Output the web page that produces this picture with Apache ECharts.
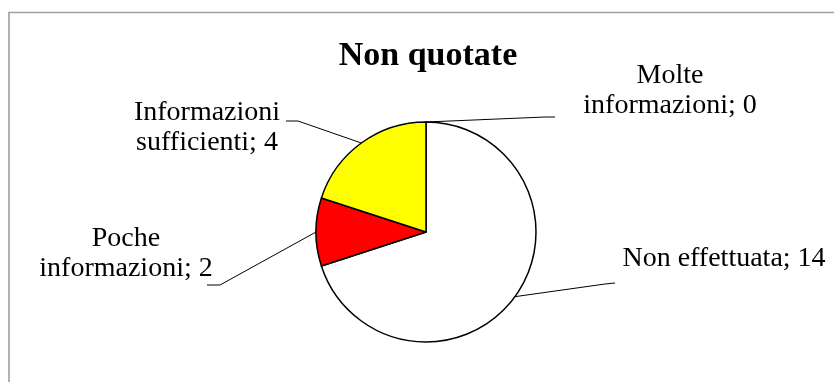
<!DOCTYPE html>
<html>
<head>
<meta charset="utf-8">
<script src="https://cdn.jsdelivr.net/npm/echarts@6/dist/echarts.min.js"></script>
<style>
  html, body { margin: 0; padding: 0; background: #fff; }
  #main { width: 834px; height: 382px; }
</style>
</head>
<body>
<div id="main"></div>
<script>
const categories = ['Molte\ninformazioni', 'Non effettuata', 'Poche\ninformazioni', 'Informazioni\nsufficienti'];
const values = [0, 14, 2, 4];
const sliceColors = ['#ffffff', '#ffffff', '#ff0000', '#ffff00'];

// label anchor and the two outer points of each leader line
const labelSpots = [
  { x: 670, y: 91, bend: [545, 117], end: [555, 117] },
  { x: 724, y: 259, bend: [605, 284], end: [615, 283] },
  { x: 126, y: 254, bend: [220, 285], end: [207, 285] },
  { x: 207, y: 128, bend: [298, 121], end: [286, 121] }
];

const font = '"Liberation Serif", "DejaVu Serif", serif';

let myChart = echarts.init(document.getElementById('main'));
let option = {
  backgroundColor: '#fff',
  animation: false,
  title: {
    text: 'Non quotate',
    left: 423,
    top: 34,
    textAlign: 'center',
    textStyle: { fontFamily: font, fontSize: 34, fontWeight: 'bold', color: '#000' }
  },
  graphic: [{
    type: 'rect',
    shape: { x: 9, y: 12.5, width: 900, height: 500 },
    style: { fill: 'none', stroke: '#a0a0a0', lineWidth: 1.6 },
    silent: true
  }],
  series: [{
    type: 'pie',
    center: [426, 232],
    radius: 110,
    startAngle: 90,
    clockwise: true,
    avoidLabelOverlap: false,
    data: categories.map((name, i) => ({ name: name, value: values[i], itemStyle: { color: sliceColors[i] } })),
    itemStyle: { borderColor: '#000', borderWidth: 1.5 },
    label: {
      show: true,
      position: 'outside',
      formatter: '{b}; {c}',
      fontFamily: font,
      fontSize: 28,
      lineHeight: 30,
      color: '#000'
    },
    labelLine: {
      show: true,
      length: 20,
      length2: 10,
      smooth: false,
      lineStyle: { color: '#000', width: 1 }
    },
    labelLayout: function (params) {
      const s = labelSpots[params.dataIndex];
      const start = params.labelLinePoints ? params.labelLinePoints[0] : s.bend;
      return {
        x: s.x,
        y: s.y,
        align: 'center',
        verticalAlign: 'middle',
        labelLinePoints: [start, s.bend, s.end]
      };
    },
    emphasis: { disabled: true }
  }]
};
myChart.setOption(option);
</script>
</body>
</html>
